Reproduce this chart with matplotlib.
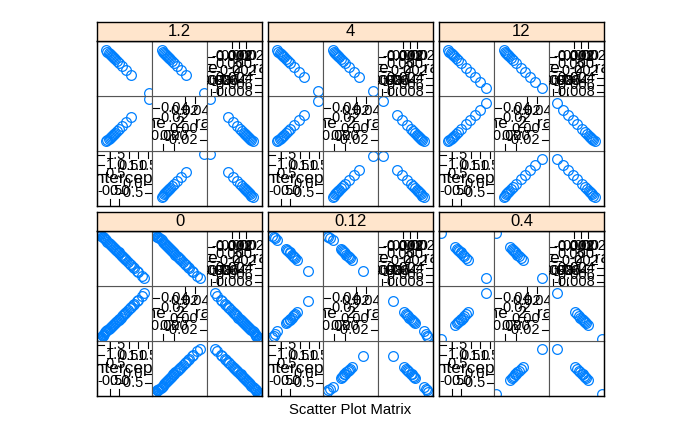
import matplotlib
matplotlib.use("Agg")
import matplotlib.pyplot as plt

plt.rcParams["font.family"] = ["Liberation Sans", "DejaVu Sans"]

FIG_W, FIG_H = 700, 432

# lattice fills panels from the bottom-left, row by row
LEVELS = ["0", "0.12", "0.4", "1.2", "4", "12"]

VAR_NAMES = ["(Intercept)", "time_2_rate", "time_-2_rate"]
VAR_LIMITS = [(-1.18, 1.71), (-0.041, 0.062), (-0.0091, 0.0066)]
VAR_TICKS = [
    [-0.5, 0.0, 0.5, 1.0, 1.5],
    [-0.02, 0.00, 0.02, 0.04],
    [-0.008, -0.006, -0.004, -0.002, 0.000, 0.002],
]
VAR_TICK_LABELS = [
    ["-0.5", "0.0", "0.5", "1.0", "1.5"],
    ["-0.02", "0.00", "0.02", "0.04"],
    ["-0.008", "-0.006", "-0.004", "-0.002", "0.000", "0.002"],
]

# per-level estimates (intercept, time_2_rate, time_-2_rate)
INT_0 = [-1.24, -1.18, -1.12, -1.09, -1.04, -1.01, -0.95, -0.89, -0.86, -0.80,
         -0.75, -0.69, -0.63, -0.57, -0.52, -0.46, -0.40, -0.34, -0.28, -0.23,
         -0.17, -0.11, -0.05, 0.00, 0.06, 0.12, 0.18, 0.24, 0.29, 0.35,
         0.44, 0.53, 0.61, 0.70, 0.79, 0.90, 0.99, 1.19, 1.31]
R2_0 = [-0.043, -0.041, -0.039, -0.038, -0.036, -0.035, -0.033, -0.031, -0.030, -0.028,
        -0.025, -0.023, -0.021, -0.019, -0.017, -0.015, -0.013, -0.011, -0.009, -0.007,
        -0.006, -0.003, -0.001, 0.001, 0.003, 0.005, 0.007, 0.009, 0.012, 0.014,
        0.017, 0.020, 0.023, 0.026, 0.029, 0.033, 0.036, 0.043, 0.048]
RM2_0 = [0.0069, 0.0066, 0.0063, 0.0061, 0.0058, 0.0057, 0.0053, 0.0050, 0.0049, 0.0046,
         0.0042, 0.0039, 0.0036, 0.0033, 0.0030, 0.0027, 0.0024, 0.0020, 0.0017, 0.0014,
         0.0011, 0.0008, 0.0005, 0.0002, -0.0002, -0.0005, -0.0008, -0.0011, -0.0014, -0.0017,
         -0.0022, -0.0027, -0.0031, -0.0036, -0.0041, -0.0047, -0.0052, -0.0063, -0.0069]

INT_0p12 = [-0.95, -0.89, -0.80, -0.69, -0.23, -0.17, -0.11, -0.05, 0.00, 0.06,
            0.12, 0.18, 0.24, 0.35, 0.90]
R2_0p12 = [-0.033, -0.031, -0.028, -0.023, -0.007, -0.005, -0.003, -0.001, 0.001, 0.003,
           0.005, 0.007, 0.009, 0.014, 0.033]
RM2_0p12 = [0.0053, 0.0050, 0.0046, 0.0039, 0.0014, 0.0011, 0.0008, 0.0005, 0.0002, -0.0002,
            -0.0005, -0.0008, -0.0011, -0.0017, -0.0047]

INT_0p4 = [-1.09, -0.34, -0.23, -0.17, -0.11, -0.05, 0.00, 0.06, 0.12, 0.24, 0.35, 1.31]
R2_0p4 = [-0.038, -0.011, -0.007, -0.005, -0.003, -0.001, 0.001, 0.003, 0.005, 0.009,
          0.014, 0.048]
RM2_0p4 = [0.0061, 0.0020, 0.0014, 0.0011, 0.0008, 0.0005, 0.0002, -0.0002, -0.0005, -0.0011,
           -0.0017, -0.0069]

INT_1p2 = [-0.69, -0.63, -0.57, -0.52, -0.46, -0.40, -0.34, -0.28, -0.23, -0.11,
           0.00, 0.12, 0.35, 0.61, 1.57]
R2_1p2 = [-0.023, -0.021, -0.019, -0.017, -0.015, -0.013, -0.011, -0.009, -0.007, -0.003,
          0.001, 0.005, 0.014, 0.023, 0.057]
RM2_1p2 = [0.0039, 0.0036, 0.0033, 0.0030, 0.0027, 0.0024, 0.0020, 0.0017, 0.0014, 0.0008,
           0.0002, -0.0005, -0.0017, -0.0031, -0.0083]

INT_4 = [-0.69, -0.63, -0.57, -0.52, -0.46, -0.40, -0.34, -0.23, -0.11, 0.00,
         0.18, 0.44, 0.70, 1.45]
R2_4 = [-0.023, -0.021, -0.019, -0.017, -0.015, -0.013, -0.011, -0.007, -0.003, 0.001,
        0.007, 0.017, 0.026, 0.053]
RM2_4 = [0.0039, 0.0036, 0.0033, 0.0030, 0.0027, 0.0024, 0.0020, 0.0014, 0.0008, 0.0002,
         -0.0008, -0.0022, -0.0036, -0.0077]

INT_12 = [-0.69, -0.63, -0.57, -0.52, -0.46, -0.40, -0.28, -0.17, 0.00, 0.24,
          0.44, 0.70, 0.99, 1.31]
R2_12 = [-0.023, -0.021, -0.019, -0.017, -0.015, -0.013, -0.009, -0.005, 0.001, 0.009,
         0.017, 0.026, 0.036, 0.048]
RM2_12 = [0.0039, 0.0036, 0.0033, 0.0030, 0.0027, 0.0024, 0.0017, 0.0011, 0.0002, -0.0011,
          -0.0022, -0.0036, -0.0052, -0.0069]

DATA = {
    "0": (INT_0, R2_0, RM2_0),
    "0.12": (INT_0p12, R2_0p12, RM2_0p12),
    "0.4": (INT_0p4, R2_0p4, RM2_0p4),
    "1.2": (INT_1p2, R2_1p2, RM2_1p2),
    "4": (INT_4, R2_4, RM2_4),
    "12": (INT_12, R2_12, RM2_12),
}

PANEL_LEFT = [97, 268, 439]
STRIP_TOP = [212, 22]   # bottom row, top row
STRIP_H = 19
CELL = 55
POINT_COL = "#0080ff"
STRIP_COL = "#ffe5cc"


def fig_rect(x, y, w, h):
    return [x / FIG_W, 1 - (y + h) / FIG_H, w / FIG_W, h / FIG_H]


def draw_diag(ax, v):
    ticks, labels = VAR_TICKS[v], VAR_TICK_LABELS[v]
    half = len(ticks) // 2
    ytr = ax.get_yaxis_transform()
    xtr = ax.get_xaxis_transform()
    tl = 0.12
    kw = dict(color="black", lw=0.8, clip_on=True)
    tkw = dict(fontsize=10.5, clip_on=True)
    ax.text(0.5, 0.5, VAR_NAMES[v], transform=ax.transAxes, ha="center",
            va="center", fontsize=12.5, clip_on=True)
    # upper half: left and top
    for t, lab in zip(ticks[half:], labels[half:]):
        ax.plot([0, tl], [t, t], transform=ytr, **kw)
        ax.text(tl + 0.04, t, lab, transform=ytr, ha="left", va="center", **tkw)
        ax.plot([t, t], [1, 1 - tl], transform=xtr, **kw)
        ax.text(t, 1 - tl - 0.03, lab, transform=xtr, ha="center", va="top", **tkw)
    # lower half: right and bottom
    for t, lab in zip(ticks[:half], labels[:half]):
        ax.plot([1, 1 - tl], [t, t], transform=ytr, **kw)
        ax.text(1 - tl - 0.04, t, lab, transform=ytr, ha="right", va="center", **tkw)
        ax.plot([t, t], [0, tl], transform=xtr, **kw)
        ax.text(t, tl + 0.03, lab, transform=xtr, ha="center", va="bottom", **tkw)


fig = plt.figure(figsize=(FIG_W / 100, FIG_H / 100), dpi=100)

for k, level in enumerate(LEVELS):
    row, col = divmod(k, 3)
    left = PANEL_LEFT[col]
    strip_top = STRIP_TOP[row]
    body_top = strip_top + STRIP_H
    vals = DATA[level]

    for r in range(3):          # r = 0 is the bottom row of cells
        for c in range(3):
            x0 = left + c * CELL
            y0 = body_top + (2 - r) * CELL
            ax = fig.add_axes(fig_rect(x0, y0, CELL, CELL))
            ax.set_xticks([])
            ax.set_yticks([])
            for s in ax.spines.values():
                s.set_color("#555555")
                s.set_linewidth(0.8)
            if r == c:
                draw_diag(ax, r)
            else:
                ax.plot(vals[c], vals[r], "o", mfc="none", mec=POINT_COL,
                        ms=7, mew=0.9, clip_on=True)
            ax.set_xlim(VAR_LIMITS[c])
            ax.set_ylim(VAR_LIMITS[r])

    frame = fig.add_axes(fig_rect(left, body_top, 3 * CELL, 3 * CELL))
    frame.patch.set_visible(False)
    frame.set_xticks([])
    frame.set_yticks([])
    for s in frame.spines.values():
        s.set_color("black")
        s.set_linewidth(1.0)

    strip = fig.add_axes(fig_rect(left, strip_top, 3 * CELL, STRIP_H))
    strip.set_facecolor(STRIP_COL)
    strip.set_xticks([])
    strip.set_yticks([])
    for s in strip.spines.values():
        s.set_color("black")
        s.set_linewidth(1.0)
    strip.text(0.5, 0.5, level, transform=strip.transAxes, ha="center",
               va="center", fontsize=12)

fig.text(350 / FIG_W, 1 - 410 / FIG_H, "Scatter Plot Matrix", ha="center",
         va="center", fontsize=10.7)

fig.savefig("out.png", dpi=100)
